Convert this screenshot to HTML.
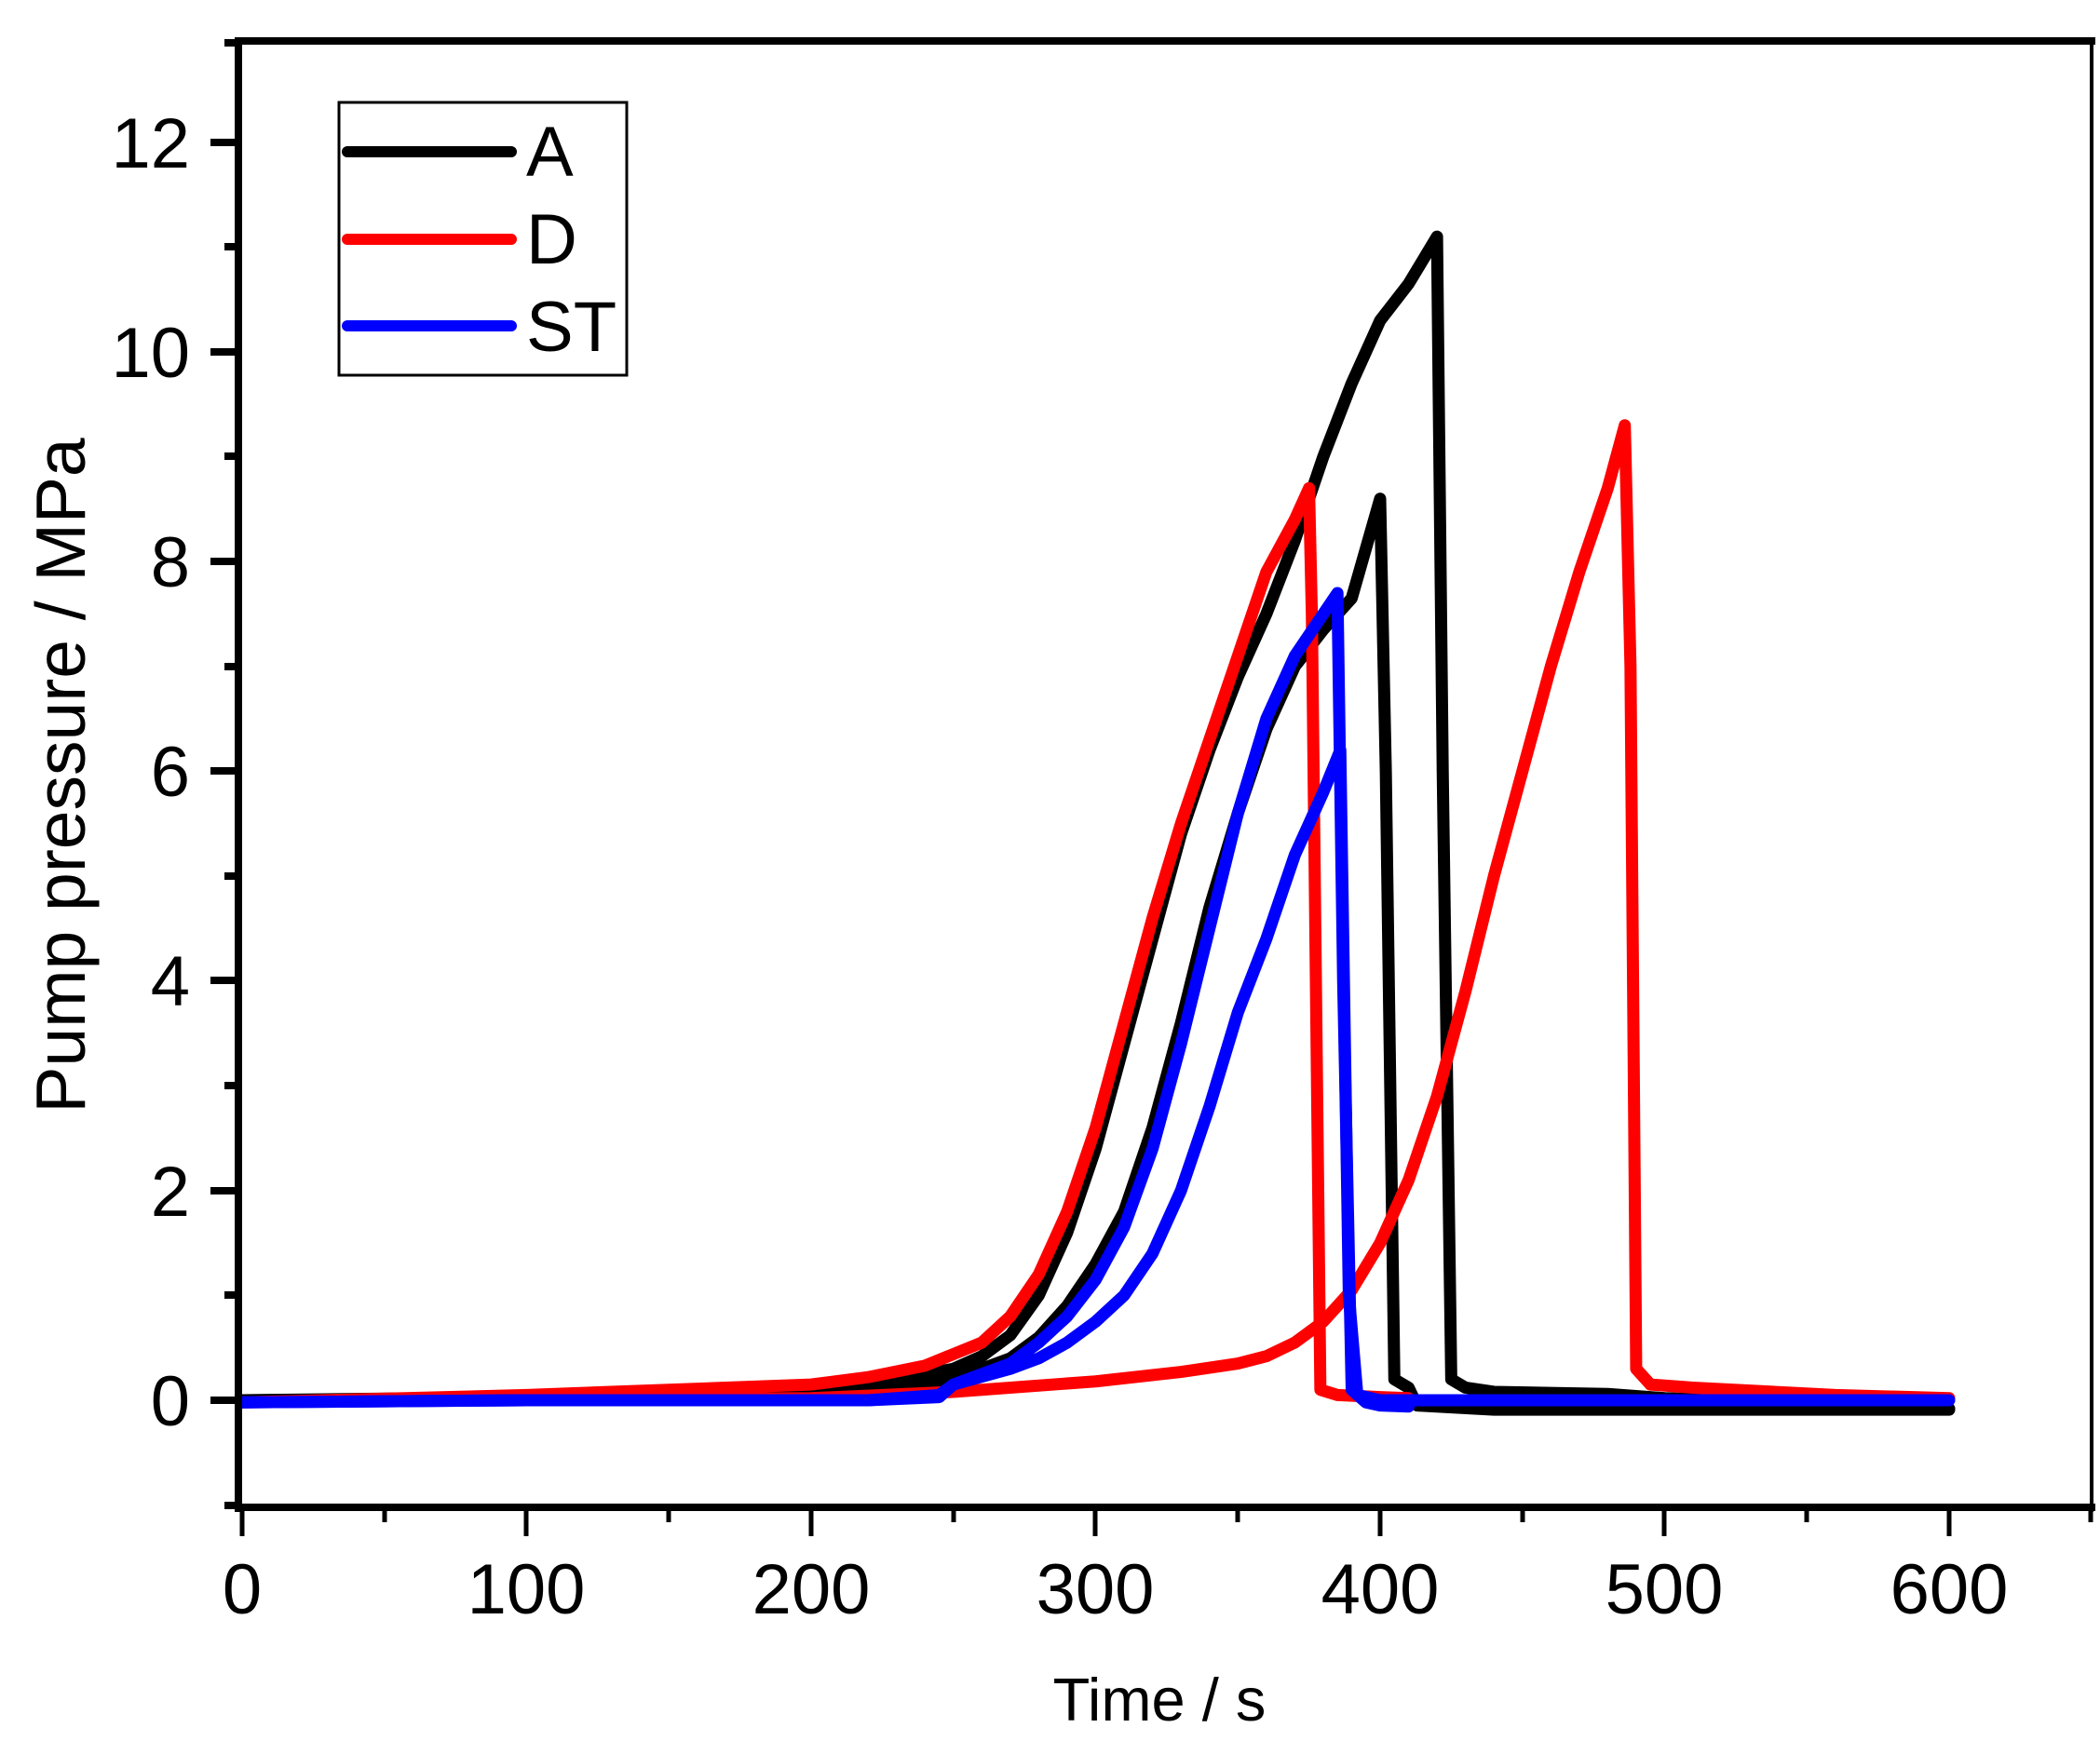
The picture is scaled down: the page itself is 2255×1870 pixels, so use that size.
<!DOCTYPE html>
<html><head><meta charset="utf-8"><style>
html,body{margin:0;padding:0;background:#fff}
svg{display:block}
text{font-family:"Liberation Sans",Arial,sans-serif;fill:#000}
</style></head><body>
<svg width="2255" height="1870" viewBox="0 0 2255 1870" xmlns="http://www.w3.org/2000/svg">
<rect width="2255" height="1870" fill="#fff"/>
<g transform="translate(260,1504) scale(3.055,-112.6)" fill="none" stroke-linejoin="round" stroke-linecap="round">
<polyline vector-effect="non-scaling-stroke" stroke="#000" stroke-width="13" points="0,0 100,0.03 200,0.1 230,0.2 250,0.3 260,0.42 270,0.62 280,1.0 290,1.6 300,2.4 310,3.4 320,4.4 330,5.4 340,6.2 350,6.9 360,7.5 370,8.2 380,9.0 390,9.7 400,10.3 410,10.65 420,11.1 422,6 425,0.2 430,0.12 440,0.08 480,0.06 500,0.02 600,-0.08"/>
<polyline vector-effect="non-scaling-stroke" stroke="#000" stroke-width="13" points="0,0 100,0.01 200,0.05 230,0.12 250,0.2 270,0.4 280,0.6 290,0.9 300,1.3 310,1.8 320,2.6 330,3.6 340,4.7 350,5.6 360,6.4 370,7.0 380,7.35 390,7.65 400,8.6 402,6 405,0.2 410,0.12 413,-0.05 440,-0.09 600,-0.09"/>
<polyline vector-effect="non-scaling-stroke" stroke="#f00" stroke-width="13" points="0,-0.02 100,0.05 200,0.15 220,0.22 240,0.33 260,0.55 270,0.8 280,1.2 290,1.8 300,2.6 310,3.6 320,4.6 330,5.5 340,6.3 350,7.1 360,7.9 370,8.4 375,8.7 376,7.5 379,0.1 385,0.05 400,0.03 410,0.02"/>
<polyline vector-effect="non-scaling-stroke" stroke="#f00" stroke-width="13" points="0,-0.02 100,0.01 200,0.02 250,0.08 300,0.18 330,0.27 350,0.35 360,0.42 370,0.55 380,0.75 390,1.05 400,1.5 410,2.1 420,2.9 430,3.9 440,5.0 450,6.0 460,7.0 470,7.9 480,8.7 486,9.3 488,7 490,0.3 495,0.15 510,0.12 560,0.05 600,0.02"/>
<polyline vector-effect="non-scaling-stroke" stroke="#00f" stroke-width="13" points="0,-0.02 100,0 220,0 245,0.03 250,0.15 260,0.25 270,0.35 280,0.55 290,0.8 300,1.15 310,1.65 320,2.4 330,3.4 340,4.5 350,5.6 360,6.5 370,7.1 380,7.5 385,7.7 387,4 390,0.1 395,-0.02 400,-0.05 410,-0.06"/>
<polyline vector-effect="non-scaling-stroke" stroke="#00f" stroke-width="13" points="0,-0.02 100,0 220,0 245,0.05 250,0.15 270,0.3 280,0.4 290,0.55 300,0.75 310,1.0 320,1.4 330,2.0 340,2.8 350,3.7 360,4.4 370,5.2 380,5.8 386,6.2 389,1 392,0.05 400,0.0 600,0.0"/>
</g>
<line x1="255" y1="44" x2="2250" y2="44" stroke="#000" stroke-width="8"/>
<line x1="2246" y1="40" x2="2246" y2="1624" stroke="#000" stroke-width="4"/>
<line x1="256" y1="40" x2="256" y2="1624" stroke="#000" stroke-width="8"/>
<line x1="252" y1="1619" x2="2250" y2="1619" stroke="#000" stroke-width="8"/>
<g stroke="#000" stroke-width="8">
<line x1="226" y1="1504" x2="256" y2="1504"/><line x1="226" y1="1279" x2="256" y2="1279"/>
<line x1="226" y1="1053" x2="256" y2="1053"/><line x1="226" y1="828" x2="256" y2="828"/>
<line x1="226" y1="603" x2="256" y2="603"/><line x1="226" y1="378" x2="256" y2="378"/>
<line x1="226" y1="153" x2="256" y2="153"/>
<line x1="241" y1="1391" x2="256" y2="1391"/><line x1="241" y1="1166" x2="256" y2="1166"/>
<line x1="241" y1="941" x2="256" y2="941"/><line x1="241" y1="716" x2="256" y2="716"/>
<line x1="241" y1="490" x2="256" y2="490"/><line x1="241" y1="265" x2="256" y2="265"/>
<line x1="241" y1="1617" x2="256" y2="1617"/><line x1="241" y1="46" x2="256" y2="46"/>
</g>
<g stroke="#000" stroke-width="5">
<line x1="260" y1="1619" x2="260" y2="1650"/><line x1="565" y1="1619" x2="565" y2="1650"/>
<line x1="871" y1="1619" x2="871" y2="1650"/><line x1="1176" y1="1619" x2="1176" y2="1650"/>
<line x1="1482" y1="1619" x2="1482" y2="1650"/><line x1="1787" y1="1619" x2="1787" y2="1650"/>
<line x1="2093" y1="1619" x2="2093" y2="1650"/>
<line x1="413" y1="1619" x2="413" y2="1635"/><line x1="718" y1="1619" x2="718" y2="1635"/>
<line x1="1024" y1="1619" x2="1024" y2="1635"/><line x1="1329" y1="1619" x2="1329" y2="1635"/>
<line x1="1635" y1="1619" x2="1635" y2="1635"/><line x1="1940" y1="1619" x2="1940" y2="1635"/>
<line x1="2245" y1="1619" x2="2245" y2="1635"/>
</g>
<g font-size="76" text-anchor="end">
<text x="204" y="1531">0</text><text x="204" y="1306">2</text><text x="204" y="1080">4</text>
<text x="204" y="855">6</text><text x="204" y="630">8</text><text x="204" y="405">10</text>
<text x="204" y="180">12</text>
</g>
<g font-size="76" text-anchor="middle">
<text x="260" y="1733">0</text><text x="565" y="1733">100</text><text x="871" y="1733">200</text>
<text x="1176" y="1733">300</text><text x="1482" y="1733">400</text><text x="1787" y="1733">500</text>
<text x="2093" y="1733">600</text>
</g>
<text x="1245" y="1848" font-size="65" text-anchor="middle">Time / s</text>
<text transform="translate(91,833) rotate(-90)" font-size="75" text-anchor="middle">Pump pressure / MPa</text>
<rect x="364" y="110" width="309" height="293" fill="#fff" stroke="#000" stroke-width="3"/>
<g stroke-width="12" stroke-linecap="round">
<line x1="373" y1="163" x2="549" y2="163" stroke="#000"/>
<line x1="373" y1="257" x2="549" y2="257" stroke="#f00"/>
<line x1="373" y1="350" x2="549" y2="350" stroke="#00f"/>
</g>
<g font-size="76">
<text x="565" y="189">A</text><text x="565" y="283">D</text><text x="565" y="377">ST</text>
</g>
</svg>
</body></html>
